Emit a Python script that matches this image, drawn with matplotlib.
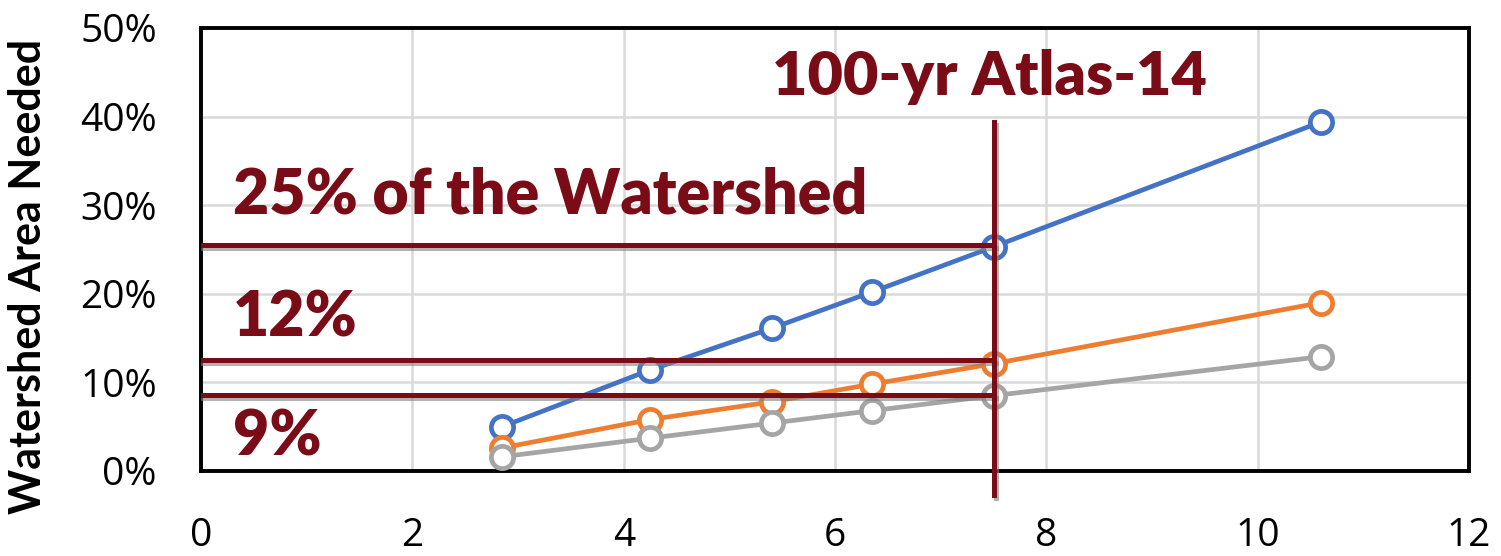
import matplotlib
matplotlib.use("Agg")
import matplotlib.pyplot as plt
import matplotlib.patheffects as pe
from matplotlib.ticker import PercentFormatter

# Data input
rainfall = [2.85, 4.25, 5.4, 6.35, 7.5, 10.6]
series_a = [5.0, 11.4, 16.1, 20.2, 25.3, 39.4]
series_b = [2.6, 5.8, 7.8, 9.8, 12.1, 19.0]
series_c = [1.6, 3.7, 5.4, 6.8, 8.5, 12.9]
ref_levels = [25.5, 12.5, 8.6]
ref_labels = ["25% of the Watershed", "12%", "9%"]
atlas_x = 7.5
atlas_label = "100-yr Atlas-14"

dark_red = "#7A0C18"
shadow = [pe.SimpleLineShadow(offset=(1.5, -2), shadow_color="gray", alpha=0.6), pe.Normal()]

fig = plt.figure(figsize=(15.01, 5.56), dpi=100)
ax = fig.add_axes([0.134, 0.153, 0.8447, 0.7967])

for y, c in [(series_a, "#4472C4"), (series_b, "#ED7D31"), (series_c, "#A5A5A5")]:
    ax.plot(rainfall, y, color=c, lw=3.4, marker="o", ms=16, mfc="white", mec=c, mew=3.4, zorder=3)

for lvl in ref_levels:
    ax.plot([0, atlas_x], [lvl, lvl], color=dark_red, lw=3.6, zorder=4, path_effects=shadow)
ax.plot([atlas_x, atlas_x], [39.4, -2.7], color=dark_red, lw=3.6, zorder=4, clip_on=False, path_effects=shadow)

ax.text(5.40, 42.4, atlas_label, color=dark_red, fontsize=44, fontweight="heavy", family="Lato", va="baseline")
ax.text(0.30, 29.1, ref_labels[0], color=dark_red, fontsize=45, fontweight="heavy", family="Lato", va="baseline")
ax.text(0.30, 15.2, ref_labels[1], color=dark_red, fontsize=45, fontweight="heavy", family="Lato", va="baseline")
ax.text(0.30, 1.7, ref_labels[2], color=dark_red, fontsize=45, fontweight="heavy", family="Lato", va="baseline")

ax.set_xlim(0, 12)
ax.set_ylim(0, 50)
ax.set_xticks(range(0, 13, 2))
ax.set_yticks(range(0, 51, 10))
ax.yaxis.set_major_formatter(PercentFormatter(decimals=0))
ax.grid(color="#d9d9d9", lw=1.8)
ax.set_axisbelow(True)
for s in ax.spines.values():
    s.set_linewidth(2.8)
    s.set_color("black")
ax.tick_params(length=0, labelsize=28)
ax.tick_params(axis="y", pad=32)
ax.tick_params(axis="x", pad=33)
for lab in ax.get_xticklabels() + ax.get_yticklabels():
    lab.set_family("Open Sans")
ax.set_ylabel("Watershed Area Needed", fontsize=31, fontweight="bold", family="Lato")
ax.yaxis.set_label_coords(-0.121, 0.438)

fig.savefig("out.png", dpi=100)
